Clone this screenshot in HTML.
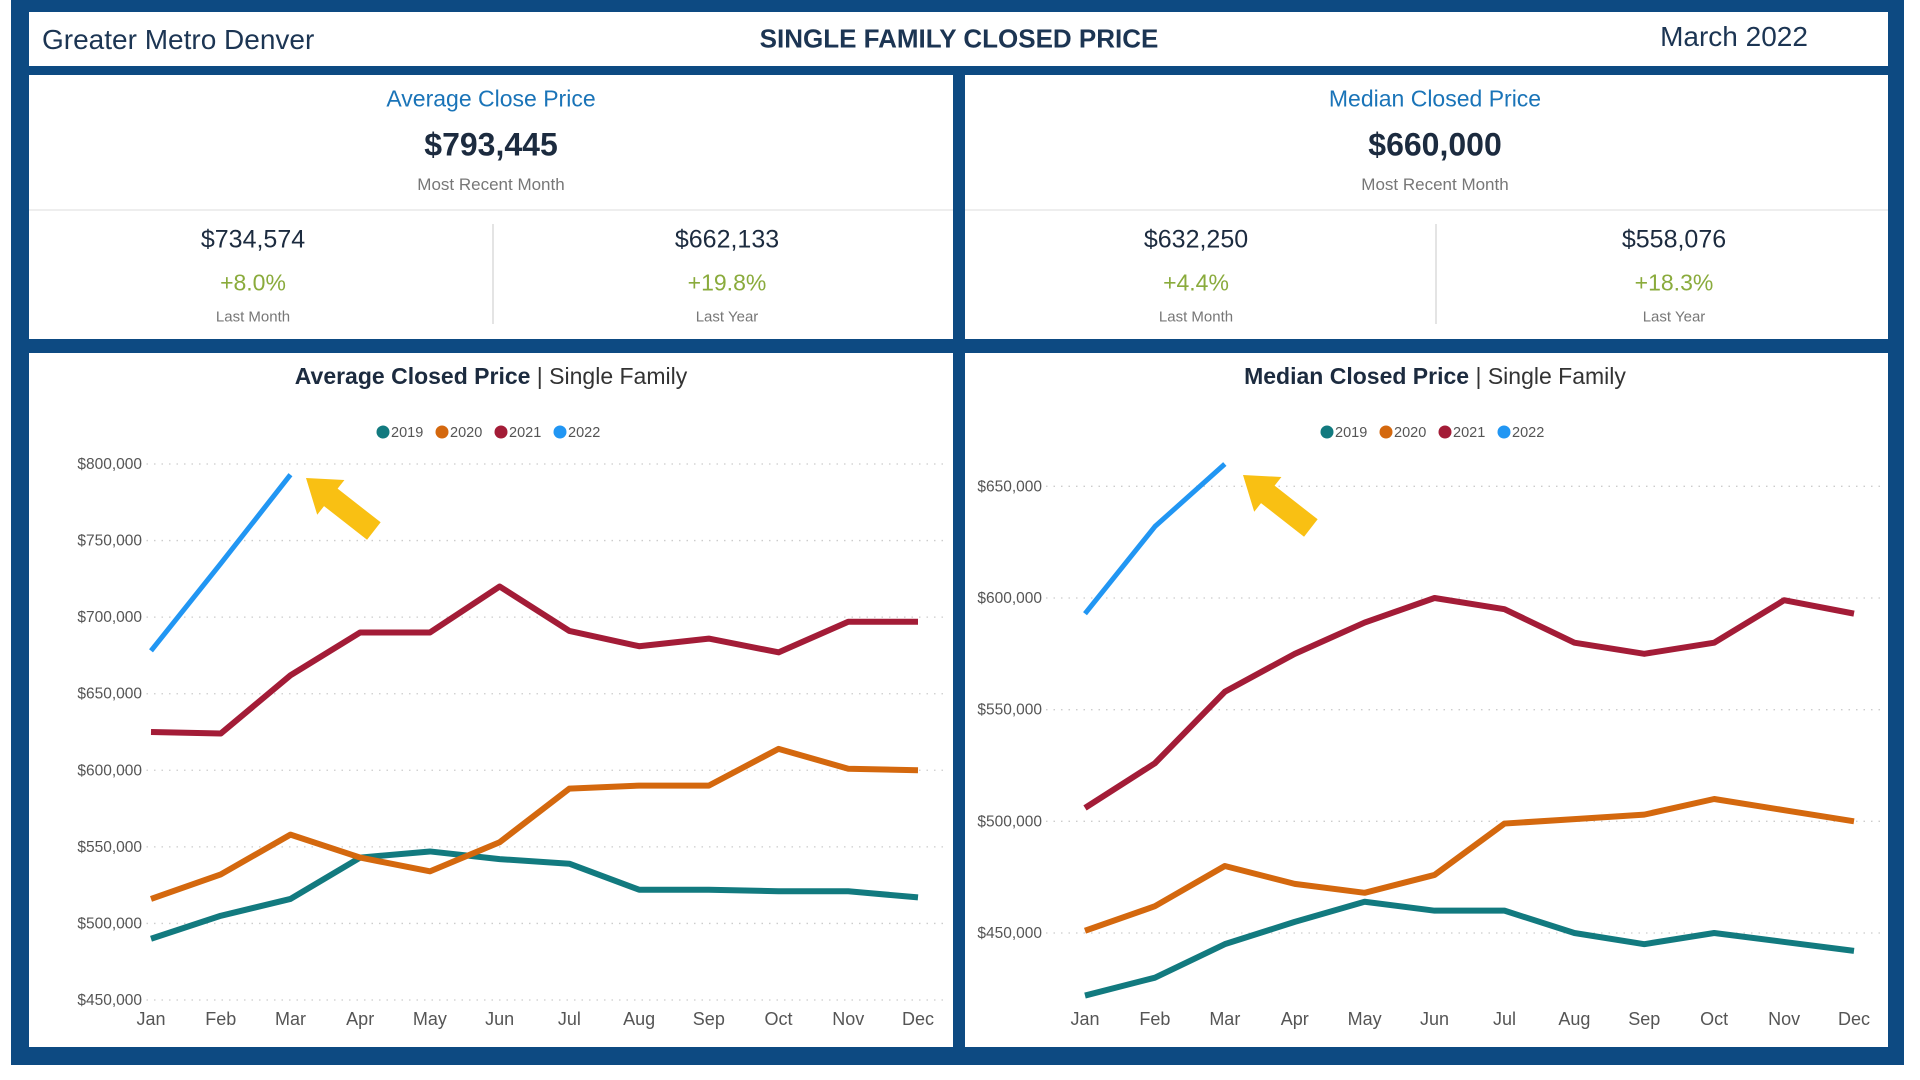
<!DOCTYPE html>
<html><head><meta charset="utf-8"><style>
body{margin:0;width:1920px;height:1080px;background:#fff;font-family:"Liberation Sans",sans-serif;position:relative;overflow:hidden}
.bg{position:absolute;left:11px;top:0;width:1893px;height:1065px;background:#0d4a82}
.p{position:absolute;background:#fff}
.t{position:absolute;white-space:nowrap;transform:translate(-50%,-50%)}
</style></head><body>
<div class="bg"></div>
<div class="p" style="left:29px;top:12px;width:1859px;height:54px"></div>
<div class="p" style="left:29px;top:75px;width:924px;height:264px"></div>
<div class="p" style="left:965px;top:75px;width:923px;height:264px"></div>
<div class="p" style="left:29px;top:353px;width:924px;height:694px"></div>
<div class="p" style="left:965px;top:353px;width:923px;height:694px"></div>

<div class="t" style="left:42px;top:40px;transform:translate(0,-50%);font-size:28px;color:#1c3553">Greater Metro Denver</div>
<div class="t" style="left:959px;top:39px;font-size:26px;font-weight:bold;color:#1c3553">SINGLE FAMILY CLOSED PRICE</div>
<div class="t" style="left:1734px;top:37px;font-size:28px;color:#1c3553">March 2022</div>

<div style="position:absolute;left:29px;top:209px;width:924px;height:2px;background:#eee"></div>
<div style="position:absolute;left:965px;top:209px;width:923px;height:2px;background:#eee"></div>
<div style="position:absolute;left:492px;top:224px;width:2px;height:100px;background:#e4e4e4"></div>
<div style="position:absolute;left:1435px;top:224px;width:2px;height:100px;background:#e4e4e4"></div>

<div class="t" style="left:491px;top:99px;font-size:23px;color:#1a74b8">Average Close Price</div>
<div class="t" style="left:491px;top:145px;font-size:32px;font-weight:bold;color:#1c2b3f">$793,445</div>
<div class="t" style="left:491px;top:185px;font-size:17px;color:#777">Most Recent Month</div>
<div class="t" style="left:253px;top:240px;font-size:25px;color:#1c2b3f">$734,574</div>
<div class="t" style="left:253px;top:283px;font-size:23px;color:#8aab3c">+8.0%</div>
<div class="t" style="left:253px;top:317px;font-size:15px;color:#777">Last Month</div>
<div class="t" style="left:727px;top:240px;font-size:25px;color:#1c2b3f">$662,133</div>
<div class="t" style="left:727px;top:283px;font-size:23px;color:#8aab3c">+19.8%</div>
<div class="t" style="left:727px;top:317px;font-size:15px;color:#777">Last Year</div>

<div class="t" style="left:1435px;top:99px;font-size:23px;color:#1a74b8">Median Closed Price</div>
<div class="t" style="left:1435px;top:145px;font-size:32px;font-weight:bold;color:#1c2b3f">$660,000</div>
<div class="t" style="left:1435px;top:185px;font-size:17px;color:#777">Most Recent Month</div>
<div class="t" style="left:1196px;top:240px;font-size:25px;color:#1c2b3f">$632,250</div>
<div class="t" style="left:1196px;top:283px;font-size:23px;color:#8aab3c">+4.4%</div>
<div class="t" style="left:1196px;top:317px;font-size:15px;color:#777">Last Month</div>
<div class="t" style="left:1674px;top:240px;font-size:25px;color:#1c2b3f">$558,076</div>
<div class="t" style="left:1674px;top:283px;font-size:23px;color:#8aab3c">+18.3%</div>
<div class="t" style="left:1674px;top:317px;font-size:15px;color:#777">Last Year</div>

<svg id="s" width="1920" height="1080" style="position:absolute;left:0;top:0"></svg>
<script>
const months=["Jan","Feb","Mar","Apr","May","Jun","Jul","Aug","Sep","Oct","Nov","Dec"];
const years=["2019","2020","2021","2022"];
const avg2019=[490,505,516,543,547,542,539,522,522,521,521,517];
const avg2020=[516,532,558,543,534,553,588,590,590,614,601,600];
const avg2021=[625,624,662,690,690,720,691,681,686,677,697,697];
const avg2022=[678,735,793];
const avgTicks=[450,500,550,600,650,700,750,800];
const med2019=[422,430,445,455,464,460,460,450,445,450,446,442];
const med2020=[451,462,480,472,468,476,499,501,503,510,505,500];
const med2021=[506,526,558,575,589,600,595,580,575,580,599,593];
const med2022=[593,632,660];
const medTicks=[450,500,550,600,650];
const colors=["#127a7f","#d4680e","#a31c37","#2196f3"];
const NS="http://www.w3.org/2000/svg",svg=document.getElementById('s');
function mk(tag,a,txt){const e=document.createElementNS(NS,tag);for(const k in a)e.setAttribute(k,a[k]);if(txt!=null)e.textContent=txt;svg.appendChild(e);return e;}
function chart(c){
  const y=v=>1000-(v-c.min)/(c.max-c.min)*536;
  const x=i=>c.x0+i*(c.x1-c.x0)/11;
  let t=mk('text',{x:c.cx,y:384,'text-anchor':'middle','font-size':23,fill:'#1c2b3f'});
  
  
  const b=document.createElementNS(NS,'tspan');b.setAttribute('font-weight','bold');b.textContent=c.title;t.appendChild(b);
  const r=document.createElementNS(NS,'tspan');r.textContent=' | Single Family';r.setAttribute('fill','#333');t.appendChild(r);
  years.forEach((yr,k)=>{const lx=c.cx-108+k*59;
    const d=mk('circle',{cx:lx,cy:432,r:6.5,fill:colors[k]});
    
    
    const lt=mk('text',{x:lx+8,y:437,'font-size':14.5,fill:'#555'},yr);
    
    });
  c.ticks.forEach(v=>{
    const g=mk('line',{x1:c.gx0,x2:c.gx1,y1:y(v),y2:y(v),stroke:'#ccc','stroke-dasharray':'1.5 6','stroke-width':1.3});
    
    
    const l=mk('text',{x:c.lx,y:y(v)+5,'text-anchor':'end','font-size':15.5,fill:'#555'},'$'+v+',000');
    
    });
  months.forEach((m,i)=>{const l=mk('text',{x:x(i),y:1025,'text-anchor':'middle','font-size':18,fill:'#555'},m);
    
    });
  c.series.forEach((s,k)=>{const p=mk('polyline',{points:s.map((v,i)=>x(i)+','+y(v)).join(' '),fill:'none',stroke:colors[k],'stroke-width':k==3?5:6,'stroke-linejoin':'round'});
    
    });
  const a=mk('polygon',{points:'0,0 30,-26 30,-13 82,-13 82,13 30,13 30,26',fill:'#f9c013',transform:'translate('+c.ax+','+c.ay+') rotate(38) scale(1.05,0.85)'});
  
  
}
chart({title:'Average Closed Price',cx:491,min:450,max:800,x0:151,x1:918,gx0:124,gx1:943,lx:142,ticks:avgTicks,series:[avg2019,avg2020,avg2021,avg2022],ax:306,ay:478});
chart({title:'Median Closed Price',cx:1435,min:420,max:660,x0:1085,x1:1854,gx0:1046,gx1:1880,lx:1042,ticks:medTicks,series:[med2019,med2020,med2021,med2022],ax:1243,ay:475});
</script>
</body></html>
